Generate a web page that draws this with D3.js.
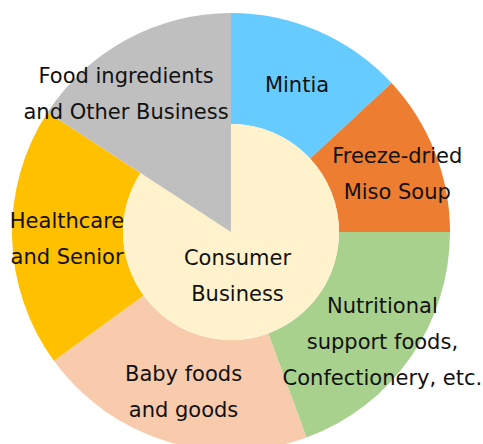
<!DOCTYPE html>
<html lang="en">
<head>
    <meta charset="UTF-8">
    <title>Consumer Business</title>
    <style>
        body { margin: 0; background: #ffffff; }
        svg { display: block; }
        text { font-family: "DejaVu Sans", sans-serif; font-size: 21px; fill: #111111; }
    </style>
</head>
<body>
    <svg id="chart" width="483" height="444"></svg>
    <script src="https://d3js.org/d3.v7.min.js"></script>
    <script>
        // Segment data (share of the ring, %), clockwise from 12 o'clock
        const segments = ["Mintia", "Freeze-dried Miso Soup", "Nutritional support foods, Confectionery, etc.",
                          "Baby foods and goods", "Healthcare and Senior", "Food ingredients and Other Business"];
        const shares = [13.1, 11.9, 19.4, 20.6, 19.2, 15.8];
        const inConsumer = [true, true, true, true, true, false];
        const labelLines = [
            ["Mintia"],
            ["Freeze-dried", "Miso Soup"],
            ["Nutritional", "support foods,", "Confectionery, etc."],
            ["Baby foods", "and goods"],
            ["Healthcare", "and Senior"],
            ["Food ingredients", "and Other Business"]
        ];
        const centerLabel = ["Consumer", "Business"];

        const colors = ["#66ccff", "#ed7d31", "#a9d18e", "#f8cbad", "#ffc000", "#bfbfbf"];
        const centerColor = "#fff2cc";

        const svg = d3.select("#chart");
        const cx = 231, cy = 232, outerR = 219, innerR = 108;
        const labelR = 170, lineH = 36;
        // small hand nudges for the label blocks, like the original layout
        const nudge = [[-2, 8], [8, 4], [12, 12], [2, -3], [6, 2], [-24, 11]];

        const pie = d3.pie().sort(null).value(d => d.share);
        const arcs = pie(segments.map((s, i) => ({ name: s, share: shares[i], i: i })));

        const ring = d3.arc().innerRadius(innerR).outerRadius(outerR);
        const full = d3.arc().innerRadius(0).outerRadius(outerR);

        const g = svg.append("g").attr("transform", `translate(${cx},${cy})`);

        // ring segments of the consumer business
        g.selectAll("path.seg")
            .data(arcs.filter(d => inConsumer[d.data.i]))
            .enter().append("path")
            .attr("class", "seg")
            .attr("d", ring)
            .attr("fill", d => colors[d.data.i]);

        // centre disc
        g.append("circle").attr("r", innerR).attr("fill", centerColor);

        // other business: full wedge over the disc
        g.selectAll("path.other")
            .data(arcs.filter(d => !inConsumer[d.data.i]))
            .enter().append("path")
            .attr("class", "other")
            .attr("d", full)
            .attr("fill", d => colors[d.data.i]);

        // labels
        function block(x, y, lines) {
            const t = g.append("text").attr("text-anchor", "middle");
            lines.forEach((ln, k) => {
                t.append("tspan")
                    .attr("x", x)
                    .attr("y", y + (k - (lines.length - 1) / 2) * lineH + 7.5)
                    .text(ln);
            });
        }

        arcs.forEach(d => {
            const a = (d.startAngle + d.endAngle) / 2;
            const x = labelR * Math.sin(a) + nudge[d.data.i][0];
            const y = -labelR * Math.cos(a) + nudge[d.data.i][1];
            block(x, y, labelLines[d.data.i]);
        });

        block(6.5, 43.5, centerLabel);
    </script>
</body>
</html>
